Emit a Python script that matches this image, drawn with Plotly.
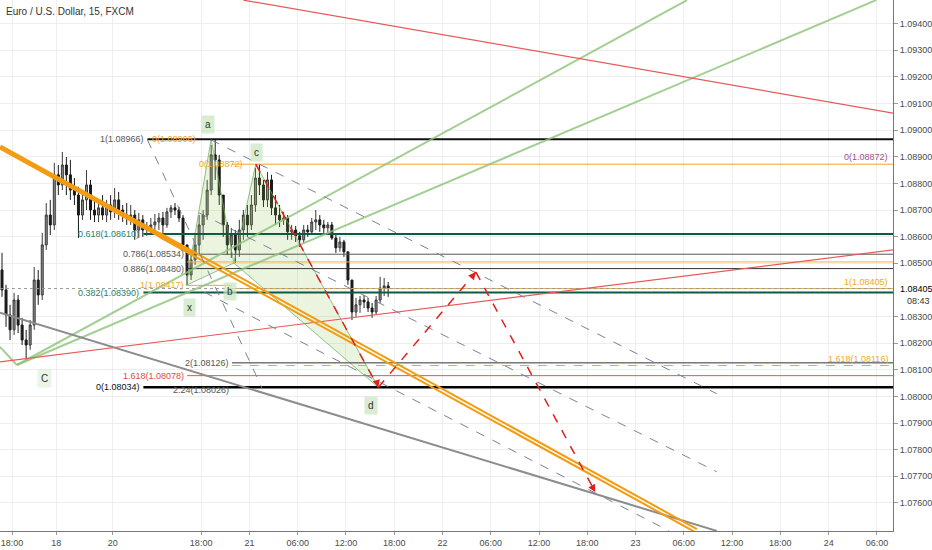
import plotly.graph_objects as go

# ---- price data: 30-minute candles (x in 15-min bar units) ----
first_open = 1.08475
close = [1.08400, 1.08306, 1.08250, 1.08362, 1.08268, 1.08212, 1.08193, 1.08268, 1.08437, 1.08381,
         1.08569, 1.08681, 1.08644, 1.08832, 1.08794, 1.08869, 1.08832, 1.08775, 1.08756, 1.08681,
         1.08738, 1.08794, 1.08700, 1.08681, 1.08708, 1.08681, 1.08719, 1.08693, 1.08738, 1.08700,
         1.08681, 1.08670, 1.08681, 1.08625, 1.08663, 1.08625, 1.08633, 1.08644, 1.08655, 1.08670,
         1.08644, 1.08693, 1.08708, 1.08700, 1.08670, 1.08569, 1.08456, 1.08513, 1.08569, 1.08644,
         1.08681, 1.08775, 1.08907, 1.08888, 1.08756, 1.08644, 1.08569, 1.08606, 1.08550, 1.08625,
         1.08681, 1.08644, 1.08719, 1.08820, 1.08794, 1.08738, 1.08813, 1.08708, 1.08681, 1.08663,
         1.08670, 1.08618, 1.08625, 1.08603, 1.08588, 1.08625, 1.08618, 1.08655, 1.08663, 1.08644,
         1.08633, 1.08644, 1.08595, 1.08558, 1.08580, 1.08543, 1.08437, 1.08317, 1.08344, 1.08362,
         1.08355, 1.08332, 1.08317, 1.08362, 1.08407, 1.08415, 1.08405]
high = [1.08539, 1.08419, 1.08344, 1.08389, 1.08381, 1.08295, 1.08250, 1.08287, 1.08486, 1.08475,
        1.08614, 1.08726, 1.08738, 1.08877, 1.08869, 1.08918, 1.08899, 1.08888, 1.08820, 1.08787,
        1.08775, 1.08850, 1.08813, 1.08738, 1.08726, 1.08756, 1.08738, 1.08756, 1.08783, 1.08768,
        1.08719, 1.08726, 1.08719, 1.08700, 1.08689, 1.08681, 1.08655, 1.08670, 1.08685, 1.08689,
        1.08693, 1.08708, 1.08719, 1.08726, 1.08711, 1.08681, 1.08569, 1.08531, 1.08606, 1.08681,
        1.08700, 1.08813, 1.08944, 1.08966, 1.08907, 1.08756, 1.08655, 1.08633, 1.08625, 1.08663,
        1.08700, 1.08719, 1.08756, 1.08858, 1.08872, 1.08813, 1.08843, 1.08832, 1.08756, 1.08719,
        1.08693, 1.08681, 1.08644, 1.08640, 1.08618, 1.08644, 1.08644, 1.08670, 1.08700, 1.08681,
        1.08663, 1.08655, 1.08655, 1.08606, 1.08599, 1.08588, 1.08543, 1.08437, 1.08370, 1.08377,
        1.08381, 1.08370, 1.08351, 1.08377, 1.08449, 1.08445, 1.08430]
low = [1.08374, 1.08261, 1.08212, 1.08231, 1.08238, 1.08193, 1.08137, 1.08175, 1.08250, 1.08344,
       1.08362, 1.08550, 1.08606, 1.08625, 1.08756, 1.08775, 1.08756, 1.08738, 1.08719, 1.08595,
       1.08663, 1.08700, 1.08663, 1.08655, 1.08655, 1.08663, 1.08655, 1.08663, 1.08670, 1.08663,
       1.08655, 1.08644, 1.08644, 1.08588, 1.08595, 1.08599, 1.08603, 1.08606, 1.08614, 1.08625,
       1.08614, 1.08633, 1.08670, 1.08681, 1.08655, 1.08550, 1.08419, 1.08437, 1.08494, 1.08531,
       1.08588, 1.08663, 1.08756, 1.08813, 1.08719, 1.08599, 1.08531, 1.08520, 1.08501, 1.08524,
       1.08588, 1.08599, 1.08625, 1.08693, 1.08756, 1.08711, 1.08711, 1.08681, 1.08644, 1.08636,
       1.08644, 1.08588, 1.08588, 1.08580, 1.08561, 1.08576, 1.08599, 1.08606, 1.08625, 1.08618,
       1.08614, 1.08614, 1.08588, 1.08539, 1.08543, 1.08524, 1.08419, 1.08287, 1.08299, 1.08314,
       1.08332, 1.08317, 1.08295, 1.08306, 1.08351, 1.08377, 1.08374]
opens = [first_open] + close[:-1]
bars = [1 + 2 * i for i in range(len(close))]

# ---- axes ----
x_ticks = [6, 28, 56, 100, 124, 148, 172, 196, 220, 244, 268, 292, 316, 340, 364, 388, 412, 436]
x_labels = ["18:00", "18", "20", "18:00", "21", "06:00", "12:00", "18:00", "22",
            "06:00", "12:00", "18:00", "23", "06:00", "12:00", "18:00", "24", "06:00"]
y_ticks = [1.0760, 1.0770, 1.0780, 1.0790, 1.0800, 1.0810, 1.0820, 1.0830, 1.0850,
           1.0860, 1.0870, 1.0880, 1.0890, 1.0900, 1.0910, 1.0920, 1.0930, 1.0940]
last_price = 1.08405

# ---- drawings ----
# harmonic pattern X, A, B, C, D
xabcd_t = [92.6, 105.0, 116.3, 127.2, 188.1]
xabcd_p = [1.08417, 1.08966, 1.08501, 1.08872, 1.08034]
xabcd_names = ["x", "a", "b", "c", "d"]

# projected path D -> E -> F (red dashed)
proj_t = [188.1, 236.6, 296.0]
proj_p = [1.08034, 1.08467, 1.07641]

# trend lines: (t0, p0, t1, p1)
red_lines = [(121.0, 1.09488, 444.0, 1.09064), (0.0, 1.08130, 444.0, 1.08550)]
green_lines = [(8.4, 1.08118, 341.6, 1.09488), (8.4, 1.08118, 435.6, 1.09488), (0.0, 1.08186, 8.4, 1.08118)]
orange_thick = (0.0, 1.08937, 96.5, 1.08535)
orange_channel = [(79.2, 1.08614, 346.5, 1.07502), (79.2, 1.08599, 346.5, 1.07487)]
gray_line = (0.0, 1.08314, 356.4, 1.07495)
dashed_lines = [(73.3, 1.08963, 130.2, 1.08032), (105.0, 1.08963, 356.4, 1.08010),
                (99.0, 1.08689, 356.4, 1.07717), (101.5, 1.08392, 332.7, 1.07495)]

# fibonacci levels
fib_price = [1.08966, 1.08872, 1.08610, 1.08534, 1.08505, 1.08480, 1.08417, 1.08405,
             1.08390, 1.08126, 1.08116, 1.08078, 1.08034]
fib_start = [73.3, 115.3, 71.3, 93.0, 93.0, 93.0, 93.0, 115.3, 71.3, 115.3, 115.3, 93.0, 71.3]
fib_end = [444, 444, 444, 444, 444, 444, 115.3, 444, 444, 444, 444, 444, 444]
fib_color = ["#111111", "#f5a623", "#0e5b45", "#555555", "#f5b041", "#333333", "#f5a623",
             "#f5a623", "#0e5b45", "#333333", "#f5a623", "#e05555", "#000000"]
fib_width = [2, 1, 2, 1, 1, 1, 1, 1, 2, 1, 1, 1, 2.5]
fib_dash = ["solid"] * 10 + ["dash", "solid", "solid"]

left_labels = [("1(1.08966)", 72.5, 1.08966, "#555555", "right"),
               ("0(1.08966)", 74.5, 1.08966, "#f5a623", "left"),
               ("0(1.08872)", 98.0, 1.08872, "#f5a623", "left"),
               ("0.618(1.08610)", 70.3, 1.08610, "#2e7d6b", "right"),
               ("0.786(1.08534)", 92.4, 1.08534, "#555555", "right"),
               ("0.886(1.08480)", 92.4, 1.08480, "#555555", "right"),
               ("1(1.08417)", 92.4, 1.08417, "#f5a623", "right"),
               ("0.382(1.08390)", 70.3, 1.08390, "#2e7d6b", "right"),
               ("2(1.08126)", 114.8, 1.08126, "#555555", "right"),
               ("1.618(1.08078)", 92.4, 1.08078, "#e04848", "right"),
               ("0(1.08034)", 70.8, 1.08034, "#111111", "right"),
               ("2.24(1.08026)", 114.8, 1.08026, "#555555", "right")]
right_labels = [("0(1.08872)", 1.08872, "#a0528c"),
                ("1(1.08405)", 1.08405, "#f5a623"),
                ("1.618(1.08116)", 1.08116, "#f5a623")]

label_font = "Liberation Sans Narrow, Liberation Sans, Arial"

fig = go.Figure()

fig.add_trace(go.Candlestick(
    x=bars, open=opens, high=high, low=low, close=close,
    increasing=dict(line=dict(color="#3a3a3a", width=1), fillcolor="#8c8c8c"),
    decreasing=dict(line=dict(color="#1a1a1a", width=1), fillcolor="#1a1a1a"),
    whiskerwidth=0, showlegend=False, hoverinfo="skip",
))

# harmonic triangles
tri_fill = "rgba(139,195,74,0.18)"
tri_line = "rgba(110,175,90,0.75)"
fig.add_trace(go.Scatter(
    x=[xabcd_t[0], xabcd_t[1], xabcd_t[2], xabcd_t[0]],
    y=[xabcd_p[0], xabcd_p[1], xabcd_p[2], xabcd_p[0]],
    mode="lines", fill="toself", fillcolor=tri_fill, line=dict(color=tri_line, width=1),
    showlegend=False, hoverinfo="skip"))
fig.add_trace(go.Scatter(
    x=[xabcd_t[2], xabcd_t[3], xabcd_t[4], xabcd_t[2]],
    y=[xabcd_p[2], xabcd_p[3], xabcd_p[4], xabcd_p[2]],
    mode="lines", fill="toself", fillcolor=tri_fill, line=dict(color=tri_line, width=1),
    showlegend=False, hoverinfo="skip"))


def seg(t0, p0, t1, p1, color, width=1, dash="solid"):
    fig.add_shape(type="line", xref="x", yref="y", x0=t0, y0=p0, x1=t1, y1=p1,
                  line=dict(color=color, width=width, dash=dash))


# horizontal fib levels
for p, s, e, c, w, d in zip(fib_price, fib_start, fib_end, fib_color, fib_width, fib_dash):
    seg(s, p, e, p, c, w, d)

# current price dotted line
seg(0, last_price, 444, last_price, "#9a9a9a", 1, "dot")

# trend lines
for l in green_lines:
    seg(*l, "rgba(140,195,120,0.8)", 2)
for l in red_lines:
    seg(*l, "#e85a5a", 1.2)
seg(*gray_line, "#8c8c8c", 2)
seg(*orange_thick, "#f39c12", 5)
for l in orange_channel:
    seg(*l, "#f39c12", 2)
for l in dashed_lines:
    seg(*l, "#7d8099", 1, "dash")

# red dashed projections
seg(xabcd_t[3], xabcd_p[3], xabcd_t[4], xabcd_p[4], "#e0201b", 1.5, "dash")
for i in range(len(proj_t) - 1):
    seg(proj_t[i], proj_p[i], proj_t[i + 1], proj_p[i + 1], "#e0201b", 1.5, "dash")

annotations = []
for (ax, ay), t, p in zip([(-2, -7), (-5, 6), (-4, -7)], proj_t, proj_p):
    annotations.append(dict(x=t, y=p, xref="x", yref="y", text="", showarrow=True,
                            arrowhead=2, arrowsize=1, arrowwidth=1.5, arrowcolor="#e0201b",
                            ax=ax, ay=ay))

# fib labels
for txt, t, p, c, anchor in left_labels:
    annotations.append(dict(x=t, y=p, xref="x", yref="y", text=txt, showarrow=False,
                            xanchor=anchor, yanchor="middle",
                            font=dict(family=label_font, size=9, color=c)))
for txt, p, c in right_labels:
    annotations.append(dict(x=1, y=p, xref="paper", yref="y", text=txt, showarrow=False,
                            xanchor="right", yanchor="bottom", xshift=-3,
                            font=dict(family=label_font, size=9, color=c)))

# pattern point labels
shifts = {"x": (3, -22), "a": (-3, 15), "b": (-4, -28), "c": (1, 12), "d": (-7, -18)}
for n, t, p in zip(xabcd_names, xabcd_t, xabcd_p):
    dx, dy = shifts[n]
    annotations.append(dict(x=t, y=p, xref="x", yref="y", text=n, showarrow=False,
                            xshift=dx, yshift=dy, bgcolor="rgba(200,230,190,0.7)", borderpad=3,
                            font=dict(family="Liberation Sans, Arial", size=10, color="#333333")))
annotations.append(dict(x=green_lines[0][0], y=green_lines[0][1], xref="x", yref="y", text="C",
                        showarrow=False, xshift=28, yshift=-13, bgcolor="rgba(200,230,190,0.4)",
                        borderpad=3, font=dict(family="Liberation Sans, Arial", size=10, color="#333333")))

# title and last price
annotations.append(dict(x=0, y=1, xref="paper", yref="paper", text="Euro / U.S. Dollar, 15, FXCM",
                        showarrow=False, xanchor="left", yanchor="top", xshift=4, yshift=-4,
                        font=dict(family="Liberation Sans, Arial", size=10, color="#333333")))
annotations.append(dict(x=1, y=last_price, xref="paper", yref="y", text="1.08405",
                        showarrow=False, xanchor="left", xshift=5,
                        font=dict(family=label_font, size=9, color="#000000")))
annotations.append(dict(x=1, y=last_price, xref="paper", yref="y", text="08:43",
                        showarrow=False, xanchor="left", xshift=12, yshift=-12,
                        font=dict(family=label_font, size=9, color="#333333")))

fig.update_layout(
    width=932, height=550,
    margin=dict(l=0, r=35, t=0, b=19),
    paper_bgcolor="white", plot_bgcolor="white",
    showlegend=False,
    annotations=annotations,
    xaxis=dict(range=[0, 444], tickvals=x_ticks, ticktext=x_labels,
               showgrid=True, gridcolor="#eeeeee", zeroline=False,
               showline=True, linecolor="#777777", linewidth=1,
               ticks="outside", ticklen=3, tickcolor="#999999",
               tickfont=dict(family=label_font, size=9, color="#4a4a4a"),
               rangeslider=dict(visible=False), fixedrange=True),
    yaxis=dict(range=[1.074947, 1.094885], side="right", tickvals=y_ticks,
               ticktext=["%.5f" % v for v in y_ticks],
               showgrid=True, gridcolor="#eeeeee", zeroline=False,
               showline=True, linecolor="#777777", linewidth=1,
               ticks="outside", ticklen=4, tickcolor="#999999",
               tickfont=dict(family=label_font, size=9, color="#4a4a4a"), fixedrange=True),
)

# the page's default body margin would push the chart off the window
fig.write_html("out.html", config={"displayModeBar": False},
               post_script="document.body.style.margin='0px';")
